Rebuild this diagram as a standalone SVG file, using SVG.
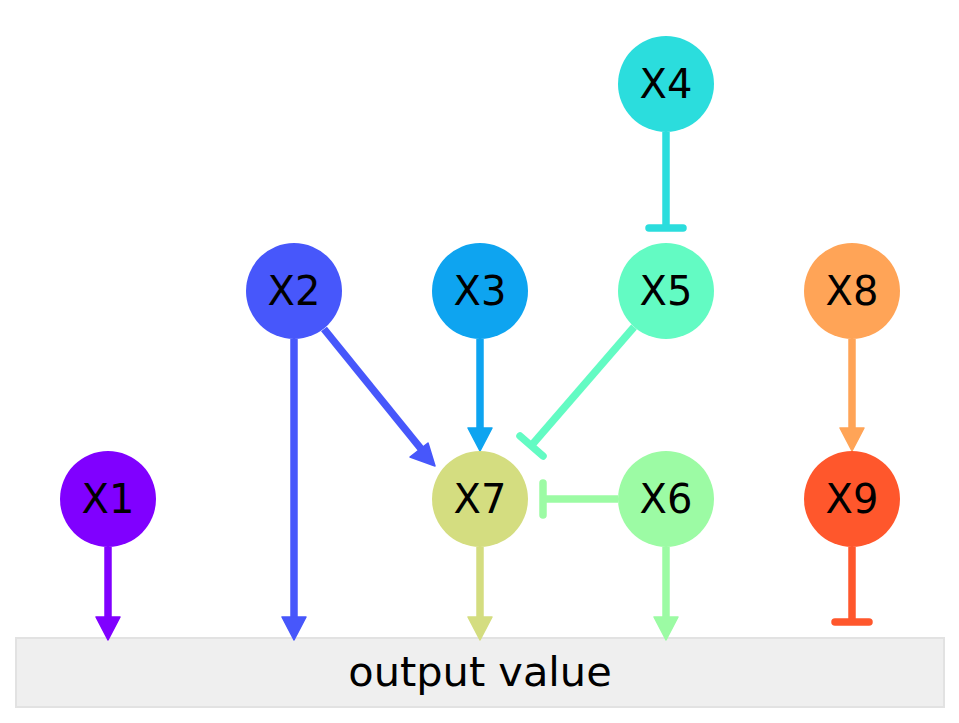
<svg xmlns="http://www.w3.org/2000/svg" width="959" height="723" viewBox="0 0 959 723">
  <style>
    .lbl { font-family: "DejaVu Sans", "Liberation Sans", sans-serif; font-size: 40px; fill: #000; text-anchor: middle; }
    .big { font-size: 41.5px; }
    .edge { stroke-width: 7.5; fill: none; stroke-linecap: butt; }
    .bar { stroke-width: 7.5; stroke-linecap: round; fill: none; }
    .head { stroke-width: 1.5; stroke-linejoin: round; }
  </style>
  <rect width="959" height="723" fill="#ffffff"/>

  <!-- output box -->
  <g id="output">
    <rect x="16" y="638" width="928" height="69" fill="#efefef" stroke="#e2e2e2" stroke-width="2"/>
    <text class="lbl big" x="480" y="686">output value</text>
  </g>

  <!-- connectors -->
  <g id="edges">
    <!-- X1 -> output -->
    <line class="edge" x1="108" y1="547" x2="108" y2="618" stroke="#8000ff"/>
    <polygon class="head" points="96,617 120,617 108,640" fill="#8000ff" stroke="#8000ff"/>
    <!-- X2 -> output -->
    <line class="edge" x1="294" y1="339" x2="294" y2="618" stroke="#4757fb"/>
    <polygon class="head" points="282,617 306,617 294,640" fill="#4757fb" stroke="#4757fb"/>
    <!-- X2 -> X7 -->
    <line class="edge" x1="324" y1="329" x2="422" y2="450" stroke="#4757fb"/>
    <polygon class="head" points="410,457 428,443 435,466" fill="#4757fb" stroke="#4757fb"/>
    <!-- X3 -> X7 -->
    <line class="edge" x1="480" y1="339" x2="480" y2="429" stroke="#0ea4f0"/>
    <polygon class="head" points="468,428 492,428 480,451" fill="#0ea4f0" stroke="#0ea4f0"/>
    <!-- X4 -| X5 -->
    <line class="edge" x1="666" y1="132" x2="666" y2="228" stroke="#2bdddd"/>
    <line class="bar" x1="649" y1="228" x2="683" y2="228" stroke="#2bdddd"/>
    <!-- X5 -| X7 -->
    <line class="edge" x1="634" y1="327" x2="531" y2="446" stroke="#63fbc3"/>
    <line class="bar" x1="520" y1="436" x2="543" y2="456" stroke="#63fbc3"/>
    <!-- X6 -| X7 -->
    <line class="edge" x1="618" y1="499" x2="543" y2="499" stroke="#9cfba4"/>
    <line class="bar" x1="543" y1="483" x2="543" y2="515" stroke="#9cfba4"/>
    <!-- X6 -> output -->
    <line class="edge" x1="666" y1="547" x2="666" y2="618" stroke="#9cfba4"/>
    <polygon class="head" points="654,617 678,617 666,640" fill="#9cfba4" stroke="#9cfba4"/>
    <!-- X7 -> output -->
    <line class="edge" x1="480" y1="547" x2="480" y2="618" stroke="#d4dd80"/>
    <polygon class="head" points="468,617 492,617 480,640" fill="#d4dd80" stroke="#d4dd80"/>
    <!-- X8 -> X9 -->
    <line class="edge" x1="852" y1="339" x2="852" y2="429" stroke="#ffa457"/>
    <polygon class="head" points="840,428 864,428 852,451" fill="#ffa457" stroke="#ffa457"/>
    <!-- X9 -| output -->
    <line class="edge" x1="852" y1="547" x2="852" y2="622" stroke="#ff572c"/>
    <line class="bar" x1="835" y1="622" x2="869" y2="622" stroke="#ff572c"/>
  </g>

  <!-- nodes -->
  <g id="X1"><circle cx="108" cy="499" r="48" fill="#8000ff"/><text class="lbl" x="108" y="513">X1</text></g>
  <g id="X2"><circle cx="294" cy="291" r="48" fill="#4757fb"/><text class="lbl" x="294" y="305">X2</text></g>
  <g id="X3"><circle cx="480" cy="291" r="48" fill="#0ea4f0"/><text class="lbl" x="480" y="305">X3</text></g>
  <g id="X4"><circle cx="666" cy="84" r="48" fill="#2bdddd"/><text class="lbl" x="666" y="98">X4</text></g>
  <g id="X5"><circle cx="666" cy="291" r="48" fill="#63fbc3"/><text class="lbl" x="666" y="305">X5</text></g>
  <g id="X6"><circle cx="666" cy="499" r="48" fill="#9cfba4"/><text class="lbl" x="666" y="513">X6</text></g>
  <g id="X7"><circle cx="480" cy="499" r="48" fill="#d4dd80"/><text class="lbl" x="480" y="513">X7</text></g>
  <g id="X8"><circle cx="852" cy="291" r="48" fill="#ffa457"/><text class="lbl" x="852" y="305">X8</text></g>
  <g id="X9"><circle cx="852" cy="499" r="48" fill="#ff572c"/><text class="lbl" x="852" y="513">X9</text></g>
</svg>
